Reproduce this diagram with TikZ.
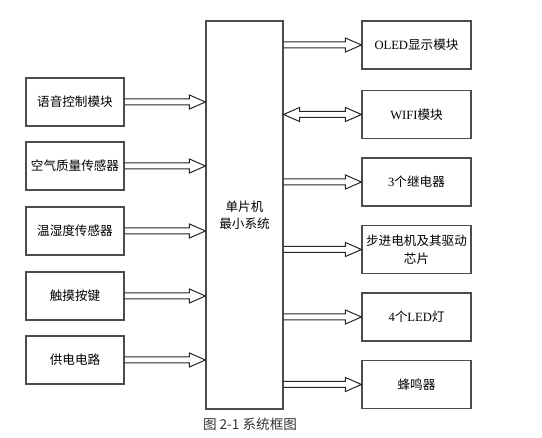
\documentclass[tikz,border=0pt]{standalone}
\usepackage{fontspec}
\newfontfamily\cjk{Noto Sans CJK SC}
\newfontfamily\lser{Liberation Serif}
\usetikzlibrary{calc}
\tikzset{
  box/.style={draw=black!70, line width=1.1pt, minimum height=48pt, inner sep=0pt,
    font=\cjk\fontsize{12.6}{17.5}\selectfont, align=center},
  lbox/.style={box, minimum width=98pt},
  rbox/.style={box, minimum width=109pt},
  mbox/.style={box, minimum width=77pt, minimum height=388pt},
  arrowline/.style={draw=black!85, line width=1pt, line join=miter}
}
\newcommand\fatarrow[2]{%
  \draw[arrowline] let \p1=(#1), \p2=(#2) in
    (\x1,\y1+3pt) -- (\x2-16pt,\y1+3pt) -- (\x2-16pt,\y1+7pt) -- (\x2,\y1)
    -- (\x2-16pt,\y1-7pt) -- (\x2-16pt,\y1-3pt) -- (\x1,\y1-3pt);}
\newcommand\dblarrow[2]{%
  \draw[arrowline] let \p1=(#1), \p2=(#2) in
    (\x1,\y1) -- (\x1+16pt,\y1+7pt) -- (\x1+16pt,\y1+3pt) -- (\x2-16pt,\y1+3pt)
    -- (\x2-16pt,\y1+7pt) -- (\x2,\y1) -- (\x2-16pt,\y1-7pt) -- (\x2-16pt,\y1-3pt)
    -- (\x1+16pt,\y1-3pt) -- (\x1+16pt,\y1-7pt) -- cycle;}
\begin{document}
\begin{tikzpicture}[x=1pt,y=-1pt]
\useasboundingbox (0,0) rectangle (542,438);
% centre
\node[mbox] (m) at (244.5,215) {单片机\\最小系统};
% left
\node[lbox] (l1) at (75,102) {语音控制模块};
\node[lbox] (l2) at (75,166) {空气质量传感器};
\node[lbox] (l3) at (75,231) {温湿度传感器};
\node[lbox] (l4) at (75,296) {触摸按键};
\node[lbox] (l5) at (75,360) {供电电路};
% right
\node[rbox] (r1) at (416.5,45) {{\lser OLED}显示模块};
\node[rbox] (r2) at (416.5,114.5) {{\lser WIFI}模块};
\node[rbox] (r3) at (416.5,182) {{\lser 3}个继电器};
\node[rbox] (r4) at (416.5,249.5) {步进电机及其驱动\\芯片};
\node[rbox] (r5) at (416.5,317) {{\lser 4}个{\lser LED}灯};
\node[rbox] (r6) at (416.5,384.5) {蜂鸣器};
% attachment points on the centre box
\foreach \k in {l1,l2,l3,l4,l5} {\coordinate (\k m) at (\k.east -| m.west);}
\foreach \k in {r1,r2,r3,r4,r5,r6} {\coordinate (\k m) at (\k.west -| m.east);}
% arrows in
\fatarrow{l1.east}{l1m}
\fatarrow{l2.east}{l2m}
\fatarrow{l3.east}{l3m}
\fatarrow{l4.east}{l4m}
\fatarrow{l5.east}{l5m}
% arrows out
\fatarrow{r1m}{r1.west}
\dblarrow{r2m}{r2.west}
\fatarrow{r3m}{r3.west}
\fatarrow{r4m}{r4.west}
\fatarrow{r5m}{r5.west}
\fatarrow{r6m}{r6.west}
% caption
\node[font=\cjk\fontsize{13.6}{16}\selectfont, text=black!80] (cap) at (250,424) {图 2-1 系统框图};
\end{tikzpicture}
\end{document}
